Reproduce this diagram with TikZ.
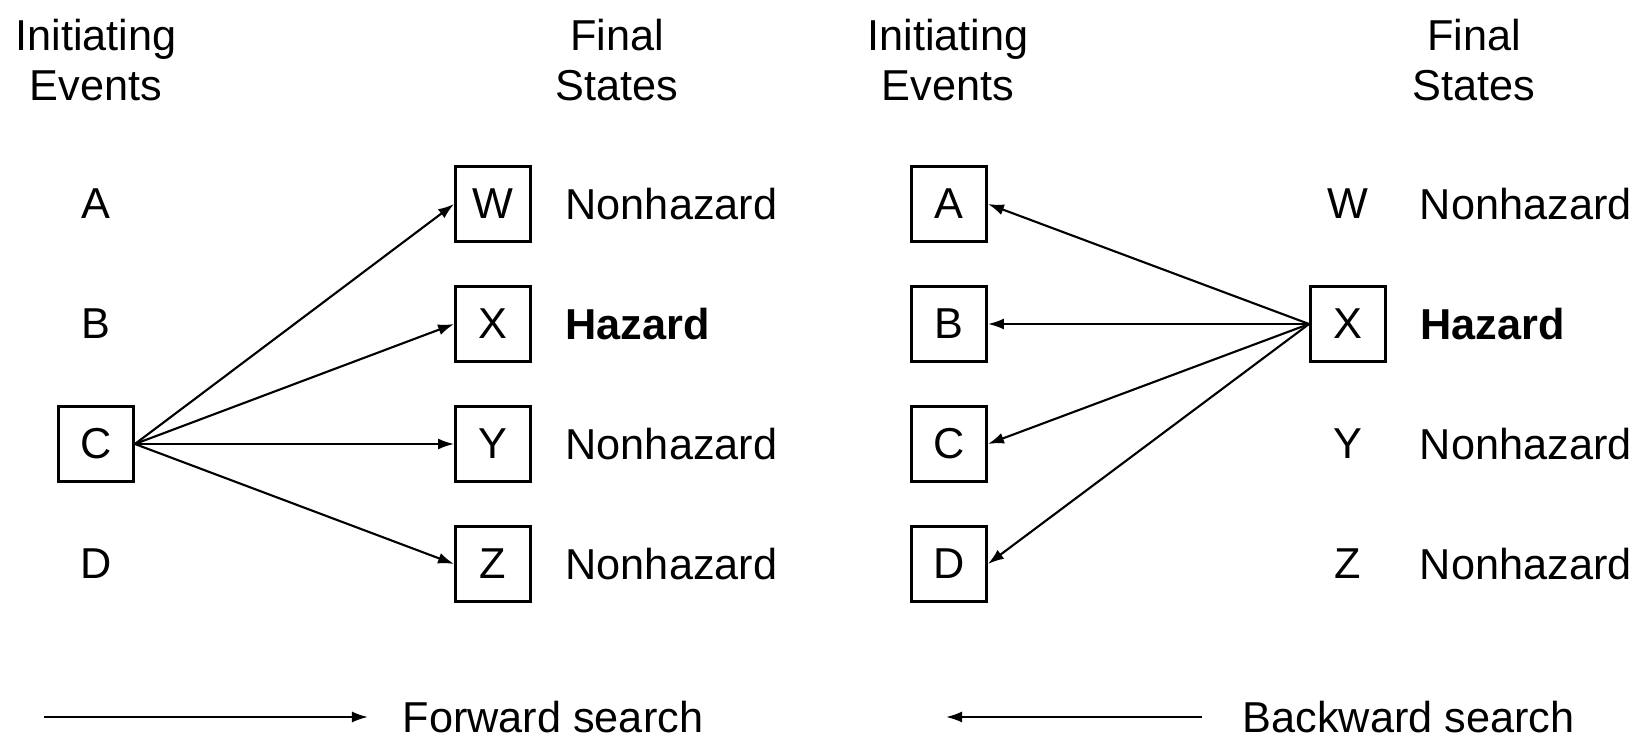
\documentclass[tikz,border=0pt]{standalone}
\usepackage{fontspec}
\setmainfont{Liberation Sans}
\usetikzlibrary{positioning,arrows.meta}
\tikzset{
  evbox/.style={draw, line width=0.8pt, minimum size=0.75cm, inner sep=0pt},
  evplain/.style={minimum size=0.75cm, inner sep=0pt},
  statelbl/.style={anchor=west, inner sep=0pt},
  head/.style={align=center, inner sep=0pt},
  arrow/.style={-{Latex[length=1.6mm,width=1.1mm]}, line width=0.6pt}
}
\begin{document}
\begin{tikzpicture}[x=0.01cm, y=-0.01cm, font=\fontsize{12.3}{14}\selectfont]
  \useasboundingbox (0,0) rectangle (1639,737);

  % forward search
  \node[head] (lhdinit) at (96,60) {Initiating\\Events};
  \node[head] (lhdfinal) at (617,60) {Final\\States};
  \node[evplain] (lA) at (96,204) {A};
  \node[evplain] (lB) at (96,324) {B};
  \node[evbox] (lC) at (96,444) {C};
  \node[evplain] (lD) at (96,564) {D};
  \node[evbox] (lW) at (493,204) {W};
  \node[evbox] (lX) at (493,324) {X};
  \node[evbox] (lY) at (493,444) {Y};
  \node[evbox] (lZ) at (493,564) {Z};
  \node[statelbl, right=0.33cm of lW] (lWt) {Nonhazard};
  \node[statelbl, right=0.33cm of lX] (lXt) {\textbf{Hazard}};
  \node[statelbl, right=0.33cm of lY] (lYt) {Nonhazard};
  \node[statelbl, right=0.33cm of lZ] (lZt) {Nonhazard};
  \draw[arrow] (lC.east) -- (lW.west);
  \draw[arrow] (lC.east) -- (lX.west);
  \draw[arrow] (lC.east) -- (lY.west);
  \draw[arrow] (lC.east) -- (lZ.west);

  % backward search
  \node[head] (rhdinit) at (948,60) {Initiating\\Events};
  \node[head] (rhdfinal) at (1474,60) {Final\\States};
  \node[evbox] (rA) at (949,204) {A};
  \node[evbox] (rB) at (949,324) {B};
  \node[evbox] (rC) at (949,444) {C};
  \node[evbox] (rD) at (949,564) {D};
  \node[evplain] (rW) at (1348,204) {W};
  \node[evbox] (rX) at (1348,324) {X};
  \node[evplain] (rY) at (1348,444) {Y};
  \node[evplain] (rZ) at (1348,564) {Z};
  \node[statelbl, right=0.33cm of rW] (rWt) {Nonhazard};
  \node[statelbl, right=0.33cm of rX] (rXt) {\textbf{Hazard}};
  \node[statelbl, right=0.33cm of rY] (rYt) {Nonhazard};
  \node[statelbl, right=0.33cm of rZ] (rZt) {Nonhazard};
  \draw[arrow] (rX.west) -- (rA.east);
  \draw[arrow] (rX.west) -- (rB.east);
  \draw[arrow] (rX.west) -- (rC.east);
  \draw[arrow] (rX.west) -- (rD.east);

  % legend
  \coordinate (fwdstart) at (44,717);
  \coordinate (fwdend) at (368,717);
  \node[statelbl] (fwdlbl) at (402,717) {Forward search};
  \draw[arrow] (fwdstart) -- (fwdend);
  \coordinate (bwdstart) at (1202,717);
  \coordinate (bwdend) at (946,717);
  \node[statelbl] (bwdlbl) at (1242,717) {Backward search};
  \draw[arrow] (bwdstart) -- (bwdend);
\end{tikzpicture}
\end{document}
